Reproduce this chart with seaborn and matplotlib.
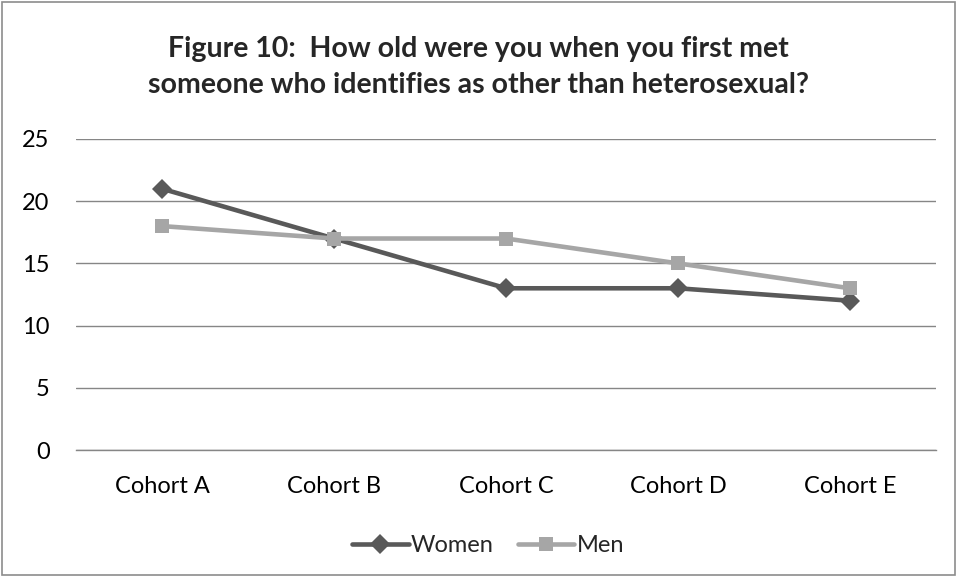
import matplotlib
matplotlib.use("Agg")
import matplotlib.pyplot as plt
from matplotlib.patches import Rectangle
from matplotlib.lines import Line2D
import seaborn as sns
import pandas as pd

cohorts = ["Cohort A", "Cohort B", "Cohort C", "Cohort D", "Cohort E"]
women = [21, 17, 13, 13, 12]
men = [18, 17, 17, 15, 13]
y_ticks = [0, 5, 10, 15, 20, 25]
title = "Figure 10:  How old were you when you first met\nsomeone who identifies as other than heterosexual?"

df = pd.DataFrame({
    "cohort": cohorts * 2,
    "age": women + men,
    "group": ["Women"] * len(cohorts) + ["Men"] * len(cohorts),
})
df["x"] = df["cohort"].map({c: i for i, c in enumerate(cohorts)})

sns.set_theme(style="white")
plt.rcParams["font.family"] = ["Lato", "DejaVu Sans"]

fig = plt.figure(figsize=(9.57, 5.77), dpi=100)
fig.patch.set_facecolor("white")
fig.add_artist(Rectangle((0.002, 0.003), 0.996, 0.994, transform=fig.transFigure,
                         fill=False, edgecolor="#8c8c8c", linewidth=1.2))

ax = fig.add_axes([0.0795, 0.2201, 0.8986, 0.5390])

palette = {"Women": "#595959", "Men": "#a6a6a6"}
markers = {"Women": "D", "Men": "s"}
sizes = {"Women": 10, "Men": 10.5}
for grp in ["Men", "Women"]:
    sub = df[df["group"] == grp]
    sns.lineplot(data=sub, x="x", y="age", ax=ax, color=palette[grp], linewidth=3.3,
                 marker=markers[grp], markersize=sizes[grp], markeredgewidth=0,
                 zorder=3 if grp == "Women" else 4, legend=False)

ax.set_xlim(-0.5, len(cohorts) - 0.5)
ax.set_ylim(0, 25)
ax.set_yticks(y_ticks)
ax.set_xticks(range(len(cohorts)))
ax.set_xticklabels(cohorts)
ax.yaxis.grid(True, color="#868686", linewidth=1.0)
ax.set_axisbelow(True)
for s in ["left", "right", "top"]:
    ax.spines[s].set_visible(False)
ax.spines["bottom"].set_color("#868686")
ax.spines["bottom"].set_linewidth(1.0)
ax.tick_params(axis="both", length=0, labelsize=17, colors="black")
ax.tick_params(axis="x", pad=19)
ax.tick_params(axis="y", pad=19)
ax.set_xlabel("")
ax.set_ylabel("")

fig.text(0.5, 0.884, title, ha="center", va="center", fontsize=20.5, fontweight="bold",
         linespacing=1.45)

handles = [Line2D([], [], color=palette[g], linewidth=3.3, marker=markers[g],
                  markersize=sizes[g], markeredgewidth=0) for g in ["Women", "Men"]]
fig.legend(handles, ["Women", "Men"], loc="center", bbox_to_anchor=(0.51, 0.054),
           ncol=2, frameon=False, fontsize=17, handlelength=2.4, handletextpad=0.1,
           columnspacing=1.0)

fig.savefig("out.png", dpi=100)
